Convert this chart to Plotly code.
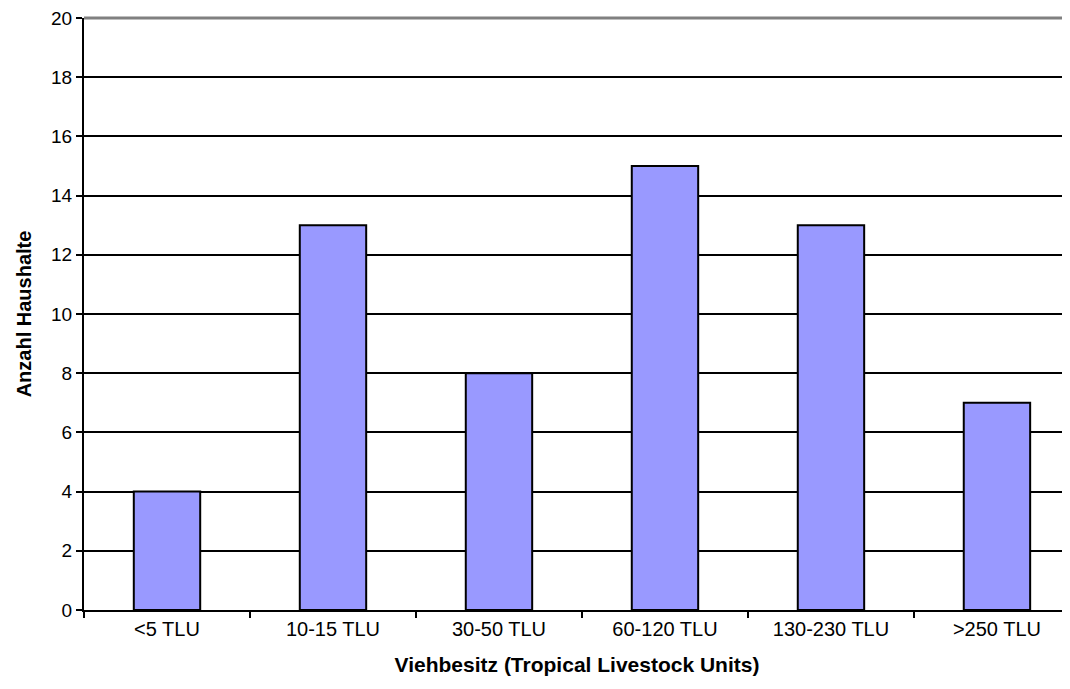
import plotly.graph_objects as go

categories = ["<5 TLU", "10-15 TLU", "30-50 TLU", "60-120 TLU", "130-230 TLU", ">250 TLU"]
households = [4, 13, 8, 15, 13, 7]
y_ticks = [0, 2, 4, 6, 8, 10, 12, 14, 16, 18, 20]

FONT = "Arial, 'Liberation Sans', sans-serif"

fig = go.Figure()
fig.add_trace(go.Bar(
    x=categories, y=households, width=0.4,
    marker=dict(color="#9999FF", line=dict(color="black", width=2)),
))

# grey frame line along the top of the plot area
fig.add_shape(type="line", xref="paper", yref="paper", x0=0, x1=1, y0=1, y1=1,
              line=dict(color="#808080", width=3), layer="above")

fig.update_layout(
    width=1062, height=681,
    margin=dict(l=76, r=0, t=10, b=79),
    paper_bgcolor="white", plot_bgcolor="white",
    showlegend=False,
    font=dict(family=FONT, size=16, color="black"),
    xaxis=dict(
        type="category", range=[-0.5, 5.44],
        tickson="boundaries", ticks="outside", ticklen=6, tickwidth=2, tickcolor="black",
        showline=True, linecolor="black", linewidth=2,
        showgrid=False,
        tickfont=dict(size=20),
        title=dict(text="<b>Viehbesitz (Tropical Livestock Units)</b>", font=dict(size=21), standoff=18),
    ),
    yaxis=dict(
        range=[0, 20], tickvals=y_ticks,
        ticks="outside", ticklen=6, tickwidth=2, tickcolor="black",
        showline=True, linecolor="black", linewidth=2,
        showgrid=True, gridcolor="black", gridwidth=2,
        zeroline=False,
        tickfont=dict(size=19),
        ticklabeloverflow="allow",
        title=dict(text="<b>Anzahl Haushalte</b>", font=dict(size=20), standoff=14),
    ),
)

fig.write_html("out.html")
